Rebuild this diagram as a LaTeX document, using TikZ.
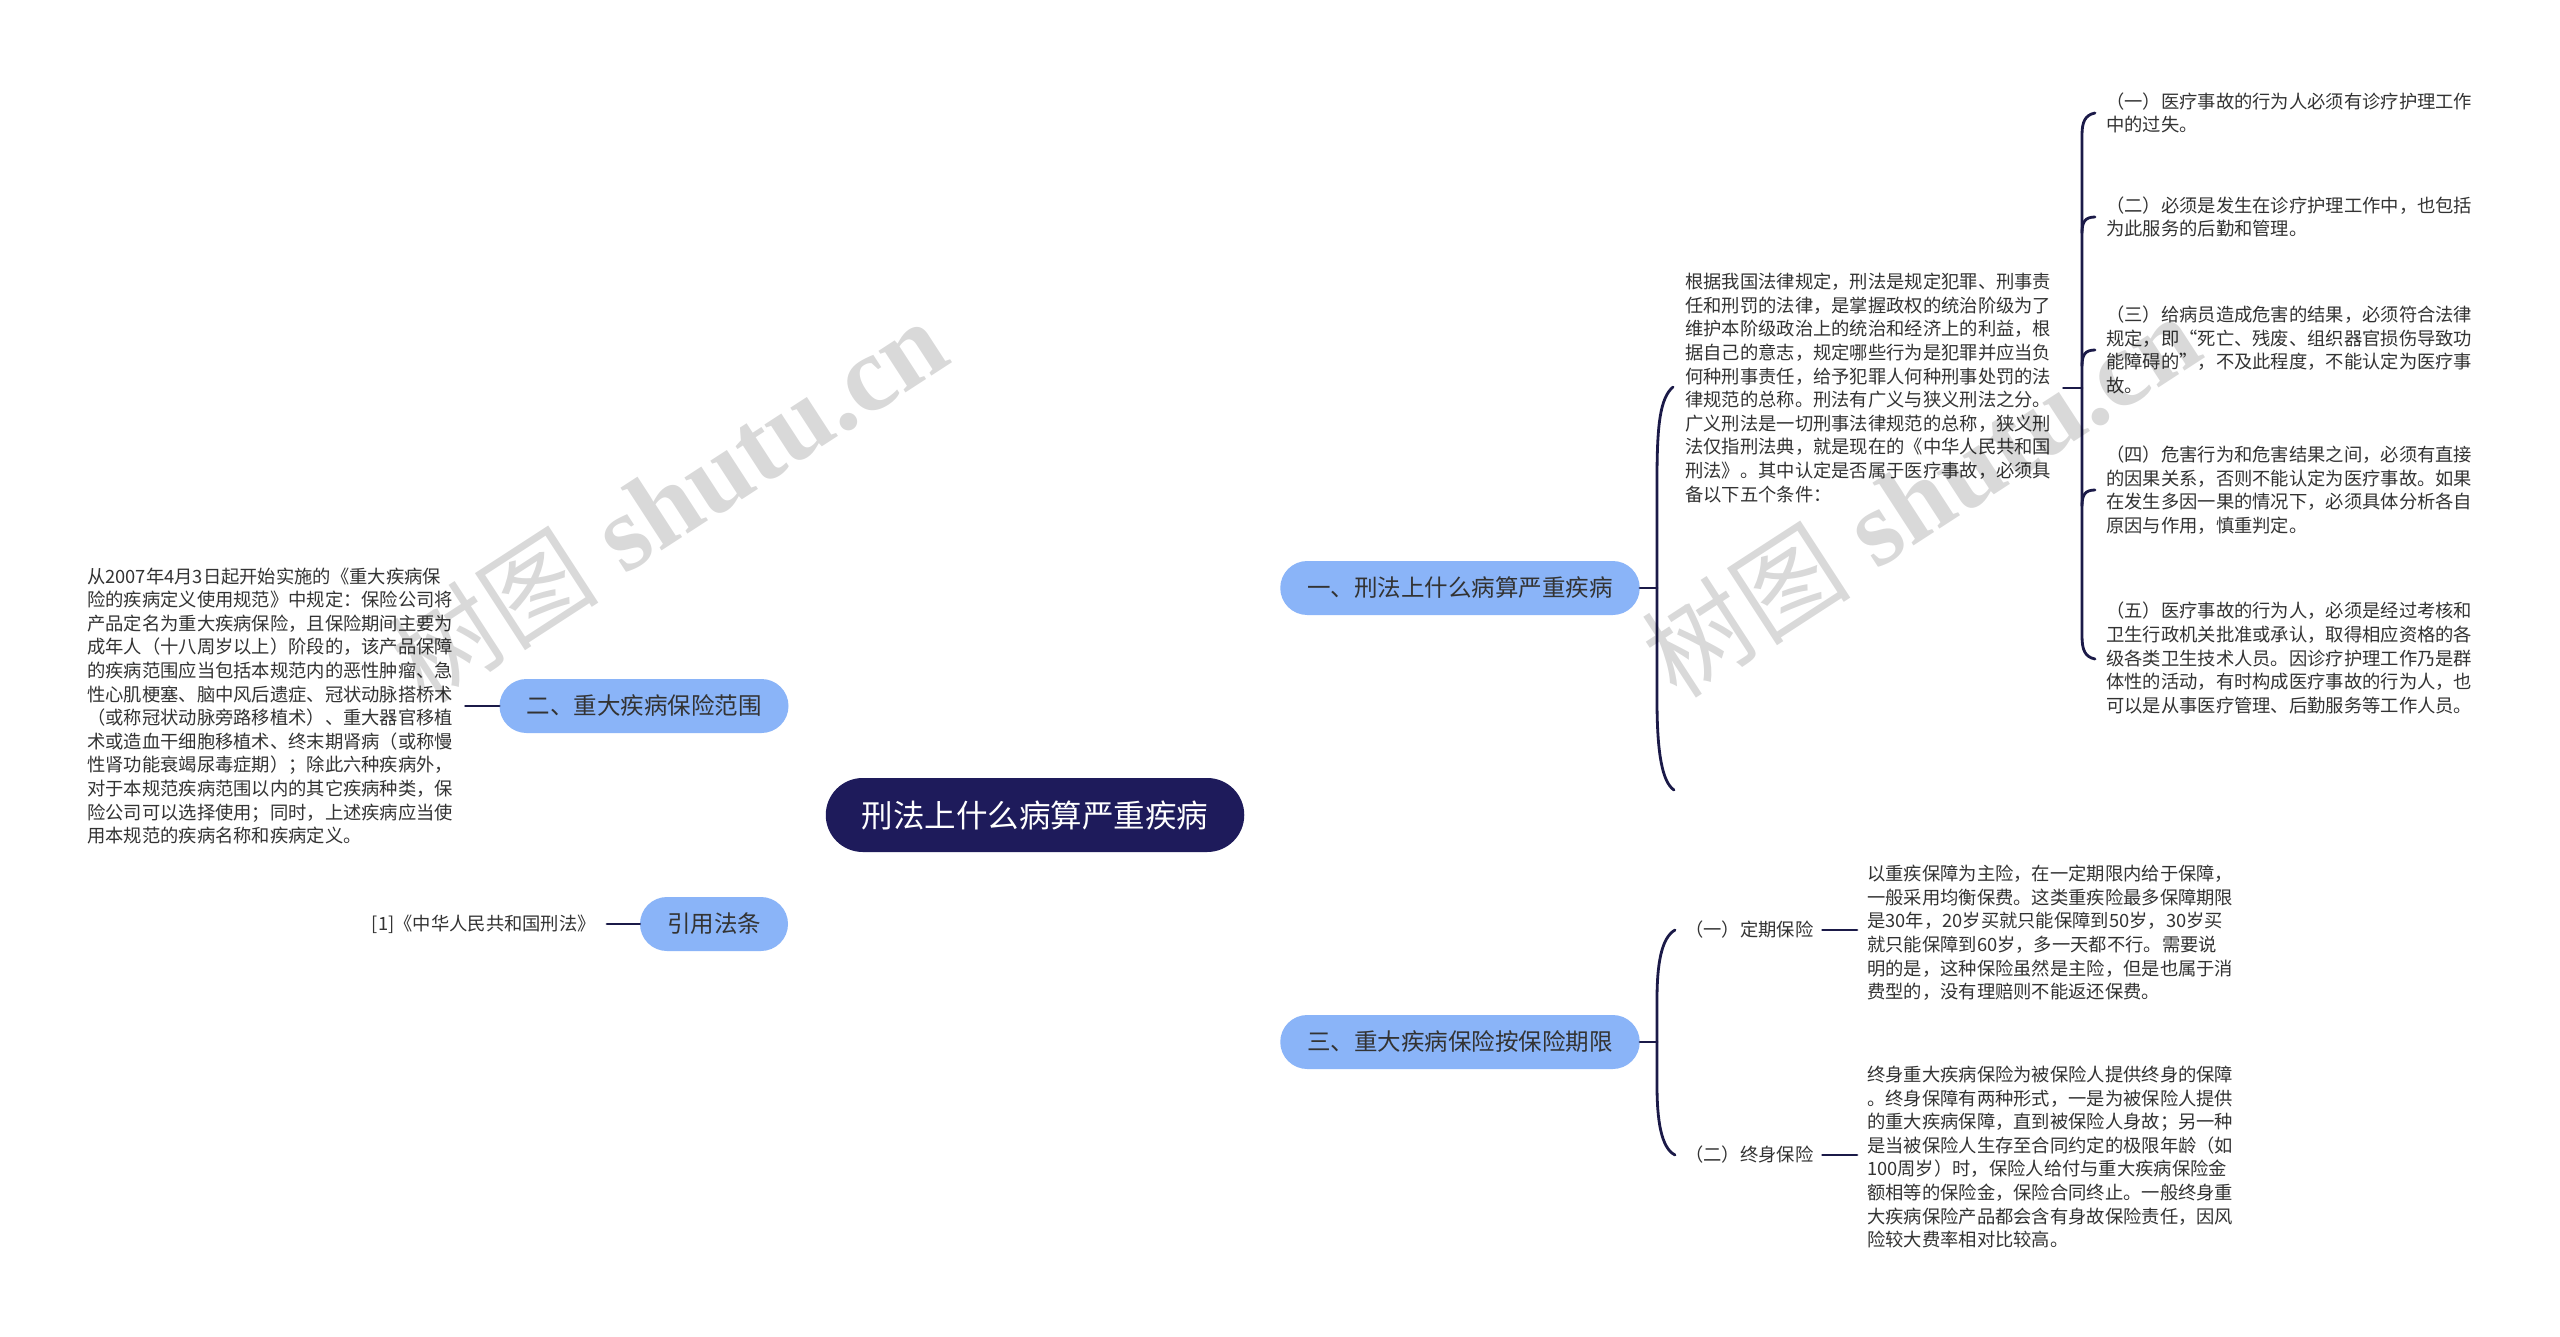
\documentclass[tikz,border=0pt]{standalone}
\usepackage{fontspec}
\setmainfont{Noto Sans CJK SC}
\newfontfamily\wmserif{Liberation Serif}
\usetikzlibrary{backgrounds,calc}
\definecolor{navy}{HTML}{1E1B5B}
\definecolor{linec}{HTML}{1B1A48}
\definecolor{blue1}{HTML}{8AB4F8}
\definecolor{txt}{HTML}{333333}
\begin{document}
\begin{tikzpicture}[x=1pt,y=-1pt,
  conn/.style={draw=linec,line width=2.8pt,line cap=round},
  rootbox/.style={fill=navy,text=white,rounded corners=37pt,minimum height=74pt,inner xsep=36pt,inner ysep=0pt,font=\fontsize{31.5pt}{36pt}\selectfont},
  branchbox/.style={fill=blue1,text=txt,rounded corners=27pt,minimum height=54pt,inner xsep=27pt,inner ysep=0pt,font=\fontsize{23.5pt}{28pt}\selectfont},
  leafbox/.style={text=txt,inner sep=0pt,align=left,font=\fontsize{18.3pt}{23.6pt}\selectfont},
  wmark/.style={text=black,text opacity=0.15,inner sep=0pt,rotate=33}
]
\fill[white] (0,0) rectangle (2560,1337);
\useasboundingbox (0,0) rectangle (2560,1337);

% nodes
\node[rootbox] (c) at (1035,815) {刑法上什么病算严重疾病};
\node[branchbox] (b1) at (1460,588) {一、刑法上什么病算严重疾病};
\node[branchbox] (b3) at (1460,1042) {三、重大疾病保险按保险期限};
\node[branchbox] (b2) at (644,706) {二、重大疾病保险范围};
\node[branchbox] (b4) at (714,924) {引用法条};

\node[leafbox,anchor=west] (a) at (1685,388) {根据我国法律规定，刑法是规定犯罪、刑事责\\任和刑罚的法律，是掌握政权的统治阶级为了\\维护本阶级政治上的统治和经济上的利益，根\\据自己的意志，规定哪些行为是犯罪并应当负\\何种刑事责任，给予犯罪人何种刑事处罚的法\\律规范的总称。刑法有广义与狭义刑法之分。\\广义刑法是一切刑事法律规范的总称，狭义刑\\法仅指刑法典，就是现在的《中华人民共和国\\刑法》。其中认定是否属于医疗事故，必须具\\备以下五个条件：};

\node[leafbox,anchor=west] (i1) at (2106,113) {（一）医疗事故的行为人必须有诊疗护理工作\\中的过失。};
\node[leafbox,anchor=west] (i2) at (2106,217) {（二）必须是发生在诊疗护理工作中，也包括\\为此服务的后勤和管理。};
\node[leafbox,anchor=west] (i3) at (2106,350) {（三）给病员造成危害的结果，必须符合法律\\规定，即“死亡、残废、组织器官损伤导致功\\能障碍的”，不及此程度，不能认定为医疗事\\故。};
\node[leafbox,anchor=west] (i4) at (2106,490) {（四）危害行为和危害结果之间，必须有直接\\的因果关系，否则不能认定为医疗事故。如果\\在发生多因一果的情况下，必须具体分析各自\\原因与作用，慎重判定。};
\node[leafbox,anchor=west] (i5) at (2106,658) {（五）医疗事故的行为人，必须是经过考核和\\卫生行政机关批准或承认，取得相应资格的各\\级各类卫生技术人员。因诊疗护理工作乃是群\\体性的活动，有时构成医疗事故的行为人，也\\可以是从事医疗管理、后勤服务等工作人员。};

\node[leafbox,anchor=west] (bb) at (87,706) {从2007年4月3日起开始实施的《重大疾病保\\险的疾病定义使用规范》中规定：保险公司将\\产品定名为重大疾病保险，且保险期间主要为\\成年人（十八周岁以上）阶段的，该产品保障\\的疾病范围应当包括本规范内的恶性肿瘤、急\\性心肌梗塞、脑中风后遗症、冠状动脉搭桥术\\（或称冠状动脉旁路移植术）、重大器官移植\\术或造血干细胞移植术、终末期肾病（或称慢\\性肾功能衰竭尿毒症期）；除此六种疾病外，\\对于本规范疾病范围以内的其它疾病种类，保\\险公司可以选择使用；同时，上述疾病应当使\\用本规范的疾病名称和疾病定义。};

\node[leafbox,anchor=east] (cc) at (596,924) {[1]《中华人民共和国刑法》};

\node[leafbox,anchor=west] (l1) at (1685,930) {（一）定期保险};
\node[leafbox,anchor=west] (l2) at (1685,1155) {（二）终身保险};

\node[leafbox,anchor=west] (e1) at (1867,933) {以重疾保障为主险，在一定期限内给于保障，\\一般采用均衡保费。这类重疾险最多保障期限\\是30年，20岁买就只能保障到50岁，30岁买\\就只能保障到60岁，多一天都不行。需要说\\明的是，这种保险虽然是主险，但是也属于消\\费型的，没有理赔则不能返还保费。};
\node[leafbox,anchor=west] (e2) at (1867,1157) {终身重大疾病保险为被保险人提供终身的保障\\。终身保障有两种形式，一是为被保险人提供\\的重大疾病保障，直到被保险人身故；另一种\\是当被保险人生存至合同约定的极限年龄（如\\100周岁）时，保险人给付与重大疾病保险金\\额相等的保险金，保险合同终止。一般终身重\\大疾病保险产品都会含有身故保险责任，因风\\险较大费率相对比较高。};

% bracket joints
\coordinate (k1) at (1657,588);
\coordinate (k2) at (2082,388);
\coordinate (k3) at (1657,1042);

\begin{pgfonlayer}{background}
% main curves
\draw[conn] (c.center) .. controls (1034,640) and (1085,588) .. (b1.west);
\draw[conn] (c.center) .. controls (1034,995) and (1085,1042) .. (b3.west);
\draw[conn] (c.center) .. controls (1030,740) and (960,706) .. (b2.east);
\draw[conn] (c.center) .. controls (1030,892) and (960,924) .. (b4.east);
\end{pgfonlayer}

% right side of b1
\draw[conn] (b1.east) -- (k1);
\draw[conn] (1673,387) .. controls (1660,398) and (1657,425) .. (1657,480) -- (1657,700) .. controls (1657,752) and (1662,782) .. (1674,790);
\draw[conn,shorten <=12pt] (a.east) -- (a.east -| k2);
\draw[conn] (2095,113) .. controls (2085,115) and (2082,122) .. (2082,135) -- (2082,636) .. controls (2082,650) and (2085,657) .. (2095,659);
\foreach \yy in {217,350,490}{
  \draw[conn] (2082,\yy+16) .. controls (2082,\yy+5) and (2085,\yy) .. (2095,\yy);
}

% right side of b3
\draw[conn] (b3.east) -- (k3);
\draw[conn] (1675,930) .. controls (1661,938) and (1657,965) .. (1657,1000) -- (1657,1085) .. controls (1657,1120) and (1661,1148) .. (1675,1155);
\draw[conn,shorten <=9pt,shorten >=10pt] (l1.east) -- (e1.west |- l1.east);
\draw[conn,shorten <=9pt,shorten >=10pt] (l2.east) -- (e2.west |- l2.east);

% left side
\draw[conn,shorten <=12pt] (bb.east) -- (b2.west);
\draw[conn,shorten <=11pt] (cc.east) -- (b4.west);

% watermarks
\node[wmark] (w1) at (668,500) {{\fontsize{105pt}{110pt}\selectfont 树图}\hspace{28pt}{\wmserif\bfseries\fontsize{108pt}{112pt}\selectfont shutu.cn}};
\node[wmark] (w2) at (1920,495) {{\fontsize{105pt}{110pt}\selectfont 树图}\hspace{28pt}{\wmserif\bfseries\fontsize{108pt}{112pt}\selectfont shutu.cn}};
\end{tikzpicture}
\end{document}
